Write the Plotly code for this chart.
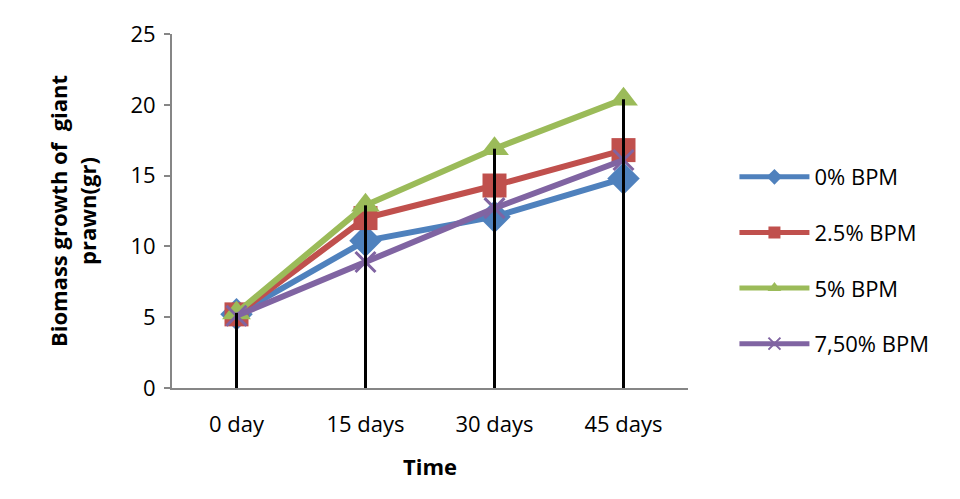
import plotly.graph_objects as go

categories = ["0 day", "15 days", "30 days", "45 days"]
bpm_0 = [5.2, 10.4, 12.1, 14.8]
bpm_2_5 = [5.2, 12.0, 14.3, 16.8]
bpm_5 = [5.3, 12.9, 16.9, 20.4]
bpm_7_5 = [5.1, 8.9, 12.7, 16.1]
y_ticks = [0, 5, 10, 15, 20, 25]

series = [
    ("0% BPM", bpm_0, "#4F81BD", "diamond", 25),
    ("2.5% BPM", bpm_2_5, "#C0504D", "square", 24),
    ("5% BPM", bpm_5, "#9BBB59", "triangle-up", 25),
    ("7,50% BPM", bpm_7_5, "#8064A2", "x-thin", 20),
]

FONT = "'Open Sans', sans-serif"

fig = go.Figure()
for i, (name, vals, color, sym, sz) in enumerate(series):
    mk = dict(symbol=sym, size=sz, color=color)
    if sym == "x-thin":
        mk = dict(symbol=sym, size=sz, color=color, line=dict(color=color, width=3))
    fig.add_trace(go.Scatter(
        x=categories, y=vals, name=name, mode="lines+markers",
        line=dict(color=color, width=6), marker=mk,
        legendgroup=f"g{i}",
    ))

# drop lines from the highest point of each category to the axis
tops = [max(v) for v in zip(bpm_0, bpm_2_5, bpm_5, bpm_7_5)]
dx, dy = [], []
for c, t in zip(categories, tops):
    dx += [c, c, None]
    dy += [0, t, None]
fig.add_trace(go.Scatter(x=dx, y=dy, mode="lines", line=dict(color="black", width=3),
                         showlegend=False, hoverinfo="skip"))

fig.update_layout(
    width=960, height=499,
    margin=dict(l=172, r=272, t=34, b=111),
    paper_bgcolor="white", plot_bgcolor="white",
    font=dict(family=FONT, size=22, color="black"),
    legend=dict(x=1.09, y=0.36, yanchor="middle", xanchor="left",
                font=dict(size=22), tracegroupgap=24, itemwidth=70,
                itemsizing="constant", bgcolor="rgba(0,0,0,0)"),
    xaxis=dict(range=[-0.5, 3.5], showline=True, linecolor="#868686", linewidth=2, ticks="",
               showgrid=False, zeroline=False, ticklabelstandoff=16,
               title=dict(text="<b>Time</b>", standoff=22, font=dict(size=22))),
    yaxis=dict(range=[0, 25], tickvals=y_ticks, showline=True, linecolor="#868686",
               linewidth=2, ticks="outside", ticklen=6, tickcolor="#868686", tickwidth=2,
               showgrid=False, zeroline=False, ticklabelstandoff=4,
               title=dict(text="<b>Biomass growth of  giant<br>prawn(gr)</b>", standoff=28,
                          font=dict(size=22))),
)

fig.write_html("out.html")
